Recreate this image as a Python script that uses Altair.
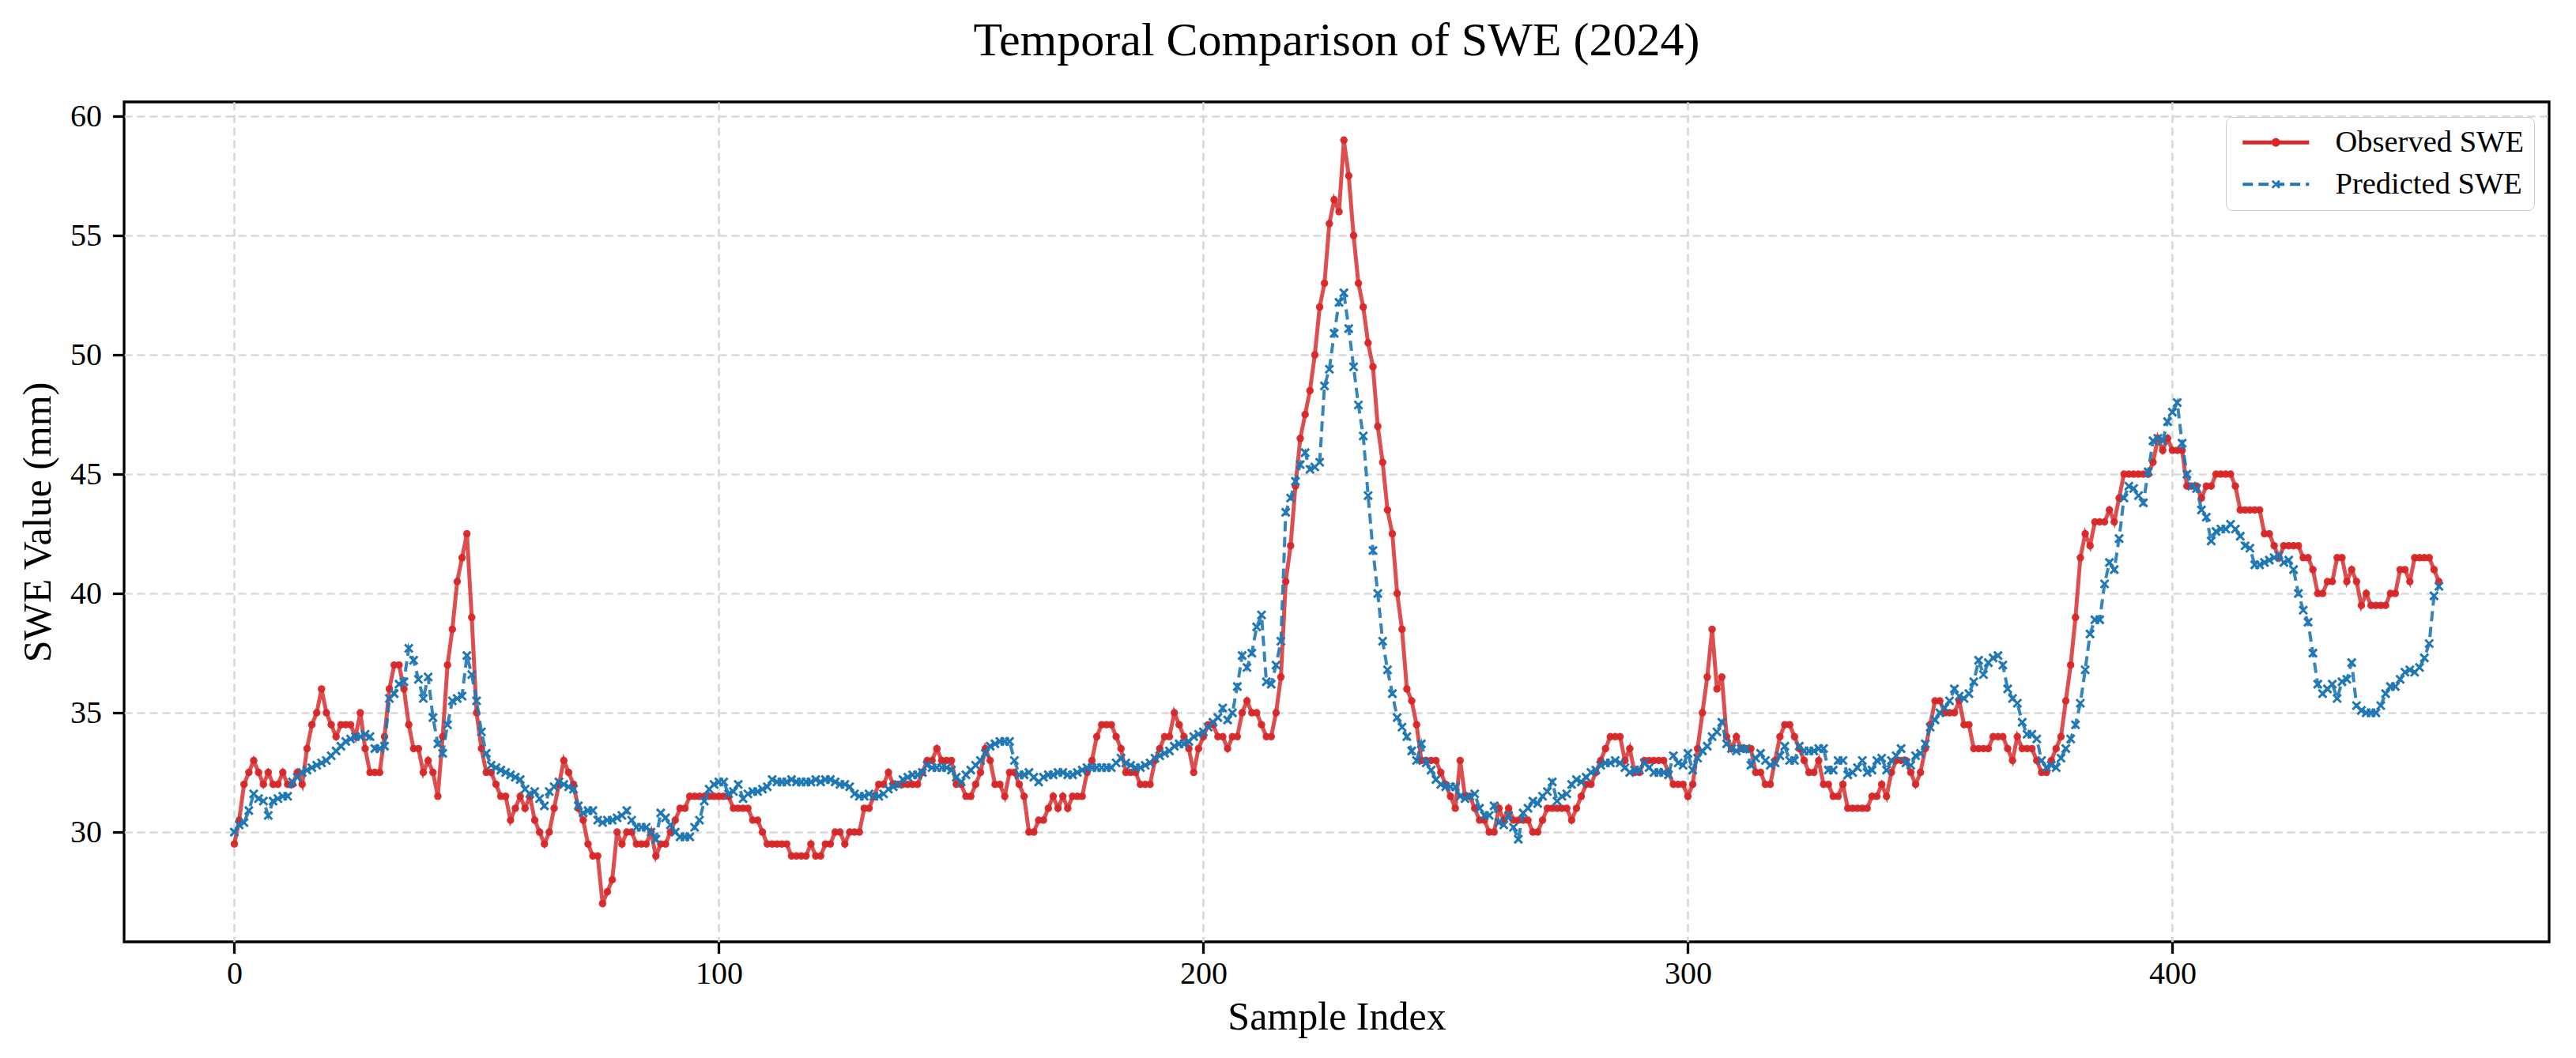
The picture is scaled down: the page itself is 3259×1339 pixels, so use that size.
import altair as alt
import pandas as pd

title_text = "Temporal Comparison of SWE (2024)"
x_title = "Sample Index"
y_title = "SWE Value (mm)"
series_names = ["Observed SWE", "Predicted SWE"]
series_colors = ["#d62728", "#1f77b4"]
x_ticks = [0, 100, 200, 300, 400]
y_ticks = [30, 35, 40, 45, 50, 55, 60]

observed = [
    29.5, 30.5, 32, 32.5, 33, 32.5, 32, 32.5, 32, 32,
    32.5, 32, 32, 32.5, 32, 33.5, 34.5, 35, 36, 35,
    34.5, 34, 34.5, 34.5, 34.5, 34, 35, 33.5, 32.5, 32.5,
    32.5, 34, 36, 37, 37, 36, 34.5, 33.5, 33.5, 32.5,
    33, 32.5, 31.5, 34, 37, 38.5, 40.5, 41.5, 42.5, 39,
    35, 33.5, 32.5, 32.5, 32, 31.5, 31.5, 30.5, 31, 31.5,
    31, 31.5, 30.5, 30, 29.5, 30, 31, 32, 33, 32.5,
    32, 31, 30.5, 29.5, 29, 29, 27, 27.5, 28, 30,
    29.5, 30, 30, 29.5, 29.5, 29.5, 30, 29, 29.5, 29.5,
    30, 30.5, 31, 31, 31.5, 31.5, 31.5, 31.5, 31.5, 31.5,
    31.5, 31.5, 31.5, 31, 31, 31, 31, 30.5, 30.5, 30,
    29.5, 29.5, 29.5, 29.5, 29.5, 29, 29, 29, 29, 29.5,
    29, 29, 29.5, 29.5, 30, 30, 29.5, 30, 30, 30,
    31, 31, 31.5, 32, 32, 32.5, 32, 32, 32, 32,
    32, 32, 32.5, 33, 33, 33.5, 33, 33, 33, 32,
    32, 31.5, 31.5, 32, 32.5, 33.5, 33, 32, 32, 31.5,
    32.5, 32.5, 32, 31.5, 30, 30, 30.5, 30.5, 31, 31.5,
    31, 31.5, 31, 31.5, 31.5, 31.5, 32.5, 33, 34, 34.5,
    34.5, 34.5, 34, 33.5, 32.5, 32.5, 32.5, 32, 32, 32,
    33, 33.5, 34, 34, 35, 34.5, 34, 33.5, 32.5, 33.5,
    34, 34.5, 34.5, 34, 34, 33.5, 34, 34, 35, 35.5,
    35, 35, 34.5, 34, 34, 35, 36.5, 40.5, 42, 44.5,
    46.5, 47.5, 48.5, 50, 52, 53, 55.5, 56.5, 56, 59,
    57.5, 55, 53, 52, 50.5, 49.5, 47, 45.5, 43.5, 42.5,
    40, 38.5, 36, 35.5, 34.5, 33, 33, 33, 33, 32.5,
    32, 31.5, 31, 33, 31.5, 31.5, 31, 30.5, 30.5, 30,
    30, 31, 30.5, 31, 30.5, 30.5, 30.5, 30.5, 30, 30,
    30.5, 31, 31, 31, 31, 31, 30.5, 31, 31.5, 32,
    32, 32.5, 33, 33.5, 34, 34, 34, 33, 33.5, 32.5,
    32.5, 33, 33, 33, 33, 33, 32.5, 32, 32, 32,
    31.5, 32, 33.5, 35, 36.5, 38.5, 36, 36.5, 34, 33.5,
    34, 33.5, 33.5, 33.5, 32.5, 32.5, 32, 32, 33, 34,
    34.5, 34.5, 34, 33.5, 33, 32.5, 32.5, 33, 32, 32,
    31.5, 31.5, 32, 31, 31, 31, 31, 31, 31.5, 31.5,
    32, 31.5, 32.5, 33, 33, 33, 32.5, 32, 32.5, 33.5,
    34.5, 35.5, 35.5, 35, 35, 35, 35.5, 34.5, 34.5, 33.5,
    33.5, 33.5, 33.5, 34, 34, 34, 33.5, 33, 34, 33.5,
    33.5, 33.5, 33, 32.5, 32.5, 33, 33.5, 34, 35.5, 37,
    39, 41.5, 42.5, 42, 43, 43, 43, 43.5, 43, 44,
    45, 45, 45, 45, 45, 45, 45.5, 46.5, 46, 46.5,
    46, 46, 46, 44.5, 44.5, 44.5, 44, 44.5, 44.5, 45,
    45, 45, 45, 44.5, 43.5, 43.5, 43.5, 43.5, 43.5, 42.5,
    42.5, 42, 41.5, 42, 42, 42, 42, 41.5, 41.5, 41,
    40, 40, 40.5, 40.5, 41.5, 41.5, 40.5, 41, 40.5, 39.5,
    40, 39.5, 39.5, 39.5, 39.5, 40, 40, 41, 41, 40.5,
    41.5, 41.5, 41.5, 41.5, 41, 40.5,
]

predicted = [
    30.0, 30.3, 30.4, 30.9, 31.6, 31.4, 31.3, 30.7, 31.3, 31.4,
    31.5, 31.5, 32.1, 32.3, 32.5, 32.6, 32.7, 32.8, 32.9, 33.0,
    33.2, 33.4, 33.6, 33.8, 33.9, 34.0, 34.0, 34.1, 34.0, 33.5,
    33.5, 33.6, 35.6, 35.8, 36.2, 36.3, 37.7, 37.2, 36.4, 35.6,
    36.5, 34.8, 33.7, 33.3, 34.5, 35.5, 35.6, 35.7, 37.4, 36.6,
    35.5, 34.2, 33.3, 32.8, 32.7, 32.6, 32.5, 32.4, 32.3, 32.2,
    31.8, 31.6, 31.7, 31.4, 31.1, 31.7, 31.9, 32.1, 32.0, 31.9,
    31.8, 31.1, 30.8, 30.9, 30.9, 30.5, 30.4, 30.5, 30.5, 30.6,
    30.7, 30.9, 30.5, 30.2, 30.2, 30.2, 30.0, 29.7, 30.8, 30.6,
    30.3, 30.0, 29.8, 29.8, 29.8, 30.2, 30.5, 31.3, 31.8, 32.0,
    32.1, 32.1, 31.6, 31.7, 32.0, 31.4, 31.6, 31.7, 31.7, 31.8,
    31.9, 32.2, 32.1, 32.1, 32.1, 32.2, 32.1, 32.1, 32.1, 32.1,
    32.2, 32.1, 32.2, 32.2, 32.1, 32.0, 32.0, 31.9, 31.6, 31.5,
    31.5, 31.6, 31.5, 31.5, 31.6, 31.8, 31.9, 32.0, 32.2, 32.3,
    32.4, 32.4, 32.5, 32.8, 32.7, 32.7, 32.7, 32.7, 32.6, 32.3,
    32.1, 32.4, 32.6, 32.8, 33.0, 33.3, 33.6, 33.7, 33.8, 33.8,
    33.8, 33.0, 32.4, 32.4, 32.5, 32.3, 32.1, 32.3, 32.4, 32.4,
    32.5, 32.5, 32.4, 32.4, 32.5, 32.6, 32.7, 32.7, 32.7, 32.7,
    32.7, 32.7, 32.9, 33.1, 32.9, 32.8, 32.7, 32.7, 32.8, 32.9,
    33.1, 33.2, 33.3, 33.4, 33.6, 33.7, 33.7, 33.8, 34.0, 34.1,
    34.2, 34.4, 34.6, 34.8, 35.2, 34.7, 35.0, 36.1, 37.4, 36.9,
    37.5, 38.6, 39.1, 36.3, 36.2, 37.0, 38.0, 43.4, 44.0, 44.7,
    45.4, 45.9, 45.2, 45.3, 45.5, 48.7, 49.4, 50.9, 52.2, 52.6,
    51.1, 49.5, 47.9, 46.6, 44.1, 41.8, 40.0, 38.0, 36.8, 35.8,
    34.8, 34.4, 34.0, 33.4, 33.0, 33.7, 32.9, 32.6, 32.2, 32.0,
    31.9, 31.9, 31.9, 31.5, 31.4, 31.5, 31.6, 31.0, 30.7, 30.7,
    31.1, 30.4, 30.3, 30.7, 30.2, 29.7, 30.8, 31.0, 31.3, 31.2,
    31.5, 31.7, 32.1, 31.3, 31.5, 31.6, 32.0, 32.2, 32.1, 32.3,
    32.5, 32.6, 32.8, 32.9, 32.9, 33.0, 32.9, 32.7, 32.5, 32.6,
    32.6, 32.9, 32.7, 32.5, 32.5, 32.5, 32.4, 33.2, 32.9, 32.8,
    33.3, 32.6, 33.1, 33.4, 33.6, 34.0, 34.2, 34.6, 33.7, 33.5,
    33.4, 33.5, 33.5, 32.8, 33.1, 33.3, 33.0, 32.8, 32.9, 33.2,
    33.6, 33.0, 33.0, 33.6, 33.4, 33.4, 33.4, 33.5, 33.5, 32.6,
    32.6, 33.0, 33.0, 32.4, 32.5, 32.7, 33.0, 32.5, 32.6, 33.0,
    33.1, 32.6, 33.0, 33.2, 33.5, 32.9, 32.8, 33.2, 33.3, 33.7,
    34.4, 34.7, 35.0, 35.2, 35.5, 36.0, 35.7, 35.6, 35.8, 36.3,
    37.2, 36.6, 37.1, 37.3, 37.4, 37.0, 36.0, 35.6, 35.4, 34.6,
    34.1, 34.1, 33.9, 33.0, 32.7, 32.8, 32.7, 33.1, 33.5, 33.9,
    34.5, 35.4, 36.8, 38.3, 38.9, 38.9, 40.4, 41.3, 41.0, 42.3,
    44.0, 44.5, 44.4, 44.1, 43.8, 45.1, 46.4, 46.5, 46.4, 47.2,
    47.6, 48.0, 46.3, 45.0, 44.5, 44.4, 43.5, 43.2, 42.2, 42.6,
    42.7, 42.7, 42.9, 42.7, 42.4, 42.0, 41.9, 41.2, 41.2, 41.3,
    41.4, 41.5, 41.6, 41.3, 41.4, 41.0, 40.0, 39.3, 38.8, 37.5,
    36.2, 35.8, 36.0, 36.2, 35.6, 36.3, 36.4, 37.1, 35.3, 35.1,
    35.0, 35.0, 35.0, 35.3, 35.8, 36.1, 36.1, 36.4, 36.7, 36.8,
    36.7, 36.9, 37.3, 37.9, 39.9, 40.3,
]

n = min(len(observed), len(predicted))
df = pd.DataFrame({
    "idx": list(range(n)),
    "obs": observed[:n],
    "pred": predicted[:n],
})

FONT = "Liberation Serif"
last = n - 1
xmargin = 0.05 * last
x_scale = alt.Scale(domain=[-xmargin, last + xmargin], nice=False, zero=False)
y_scale = alt.Scale(domain=[25.4, 60.6], nice=False, zero=False)

GRID = dict(grid=True, gridDash=[10, 6], gridColor="#d9d9d9", gridWidth=2.7)
x_axis = alt.Axis(values=x_ticks, format="d", title=x_title, **GRID,
                  domain=False, tickSize=14.6, tickWidth=3.3, tickColor="black",
                  labelFont=FONT, labelFontSize=40, labelColor="black", labelPadding=6,
                  titleFont=FONT, titleFontSize=50, titleFontWeight="normal",
                  titleColor="black", titlePadding=10)
y_axis = alt.Axis(values=y_ticks, format="d", title=y_title, **GRID,
                  domain=False, tickSize=14.6, tickWidth=3.3, tickColor="black",
                  labelFont=FONT, labelFontSize=40, labelColor="black", labelPadding=14,
                  titleFont=FONT, titleFontSize=50, titleFontWeight="normal",
                  titleColor="black", titlePadding=15)

X = alt.X("idx:Q", scale=x_scale, axis=x_axis)

base = alt.Chart(df)

obs_line = base.mark_line(color=series_colors[0], strokeWidth=5, opacity=0.82).encode(
    x=X, y=alt.Y("obs:Q", scale=y_scale, axis=y_axis))
obs_pts = base.mark_circle(color=series_colors[0], size=90, opacity=0.95).encode(
    x=X, y=alt.Y("obs:Q", scale=y_scale, axis=y_axis))
pred_line = base.mark_line(color=series_colors[1], strokeWidth=4, opacity=0.9,
                           strokeDash=[13, 7]).encode(
    x=X, y=alt.Y("pred:Q", scale=y_scale, axis=y_axis))
pred_pts = base.mark_point(shape="M-1,-1L1,1M-1,1L1,-1", filled=False,
                           color=series_colors[1], strokeWidth=3, size=100,
                           opacity=1).encode(
    x=X, y=alt.Y("pred:Q", scale=y_scale, axis=y_axis))

obs_symbol = ("M-0.73,-0.16L1.74,-0.16L1.74,0.16L-0.73,0.16Z "
              "M2.40,-0.16L4.87,-0.16L4.87,0.16L2.40,0.16Z "
              "M2.43,0A0.36,0.36,0,1,1,1.71,0A0.36,0.36,0,1,1,2.43,0Z")
pred_symbol = ("M-0.73,-0.13L0.13,-0.13L0.13,0.13L-0.73,0.13Z "
               "M0.60,-0.13L1.46,-0.13L1.46,0.13L0.60,0.13Z "
               "M1.93,-0.13L2.79,-0.13L2.79,0.13L1.93,0.13Z "
               "M3.26,-0.13L4.12,-0.13L4.12,0.13L3.26,0.13Z "
               "M4.59,-0.13L4.87,-0.13L4.87,0.13L4.59,0.13Z "
               "M1.83,-0.37L2.44,0.24L2.31,0.37L1.70,-0.24Z "
               "M1.70,0.24L2.31,-0.37L2.44,-0.24L1.83,0.37Z")

legend = alt.Legend(orient="top-right", offset=19, title=None,
                    labelFont=FONT, labelFontSize=38.5, labelColor="black",
                    labelLimit=500, symbolSize=900, symbolStrokeWidth=0,
                    labelOffset=87, padding=13, rowPadding=14,
                    strokeColor="#cccccc", fillColor="rgba(255,255,255,0.8)",
                    cornerRadius=8)

legend_layer = base.transform_fold(["obs", "pred"], as_=["key", "val"]).transform_calculate(
    series="datum.key == 'obs' ? 'Observed SWE' : 'Predicted SWE'"
).transform_filter("datum.idx < 0").mark_point(filled=True, size=900, opacity=1).encode(
    x=X,
    y=alt.Y("val:Q", scale=y_scale, axis=y_axis),
    color=alt.Color("series:N", scale=alt.Scale(domain=series_names, range=series_colors),
                    legend=legend),
    shape=alt.Shape("series:N", scale=alt.Scale(domain=series_names,
                                                range=[obs_symbol, pred_symbol]),
                    legend=legend),
)

chart = alt.layer(obs_line, obs_pts, pred_line, pred_pts, legend_layer).properties(
    width=3068, height=1063,
    title=alt.TitleParams(title_text, font=FONT, fontSize=60, fontWeight="normal",
                          color="black", anchor="middle", offset=44),
    padding={"left": 149, "top": 121, "right": 20, "bottom": 138},
    autosize=alt.AutoSizeParams(type="none"),
).configure(
    background="white",
    view=alt.ViewConfig(stroke="black", strokeWidth=3.3),
)

chart.save("out.html", embed_options={"renderer": "svg", "actions": False})
